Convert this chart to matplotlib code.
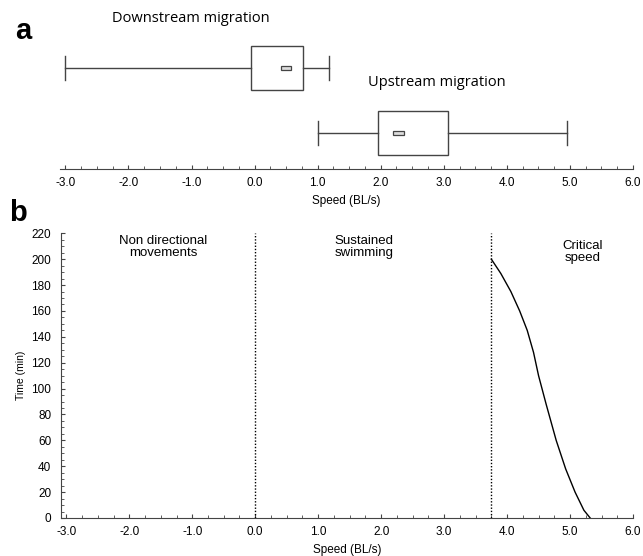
import matplotlib.pyplot as plt
from matplotlib.patches import Rectangle
from matplotlib.ticker import MultipleLocator, FormatStrFormatter

# panel a: box summaries (BL/s)
groups = ["Downstream migration", "Upstream migration"]
whisker_low = [-3.0, 1.01]
box_low = [-0.05, 1.95]
median = [0.50, 2.28]
box_high = [0.77, 3.06]
whisker_high = [1.18, 4.95]

# panel b: critical swimming curve
zone_edges = [0.0, 3.75]
zone_labels = ["Non directional\nmovements", "Sustained\nswimming", "Critical\nspeed"]
curve_speed = [3.75, 3.90, 4.06, 4.20, 4.32, 4.42, 4.50, 4.62, 4.78, 4.93, 5.08, 5.22, 5.32]
curve_time = [200, 189, 175, 160, 145, 128, 110, 88, 60, 38, 20, 6, 0]

LINE = "#444444"
TICK_FONT = ["Liberation Sans", "DejaVu Sans"]


def style_x_axis(ax):
    ax.set_xlim(-3.085, 6.0)
    ax.xaxis.set_major_locator(MultipleLocator(1.0))
    ax.xaxis.set_minor_locator(MultipleLocator(0.25))
    ax.xaxis.set_major_formatter(FormatStrFormatter("%.1f"))
    ax.tick_params(axis="x", which="major", direction="in", length=3, width=0.8,
                   color=LINE, labelsize=8.5, pad=6)
    ax.tick_params(axis="x", which="minor", direction="in", length=2, width=0.6, color=LINE)
    for lab in ax.get_xticklabels():
        lab.set_family(TICK_FONT)
    ax.set_xlabel("Speed (BL/s)", fontsize=8.5, family=TICK_FONT, labelpad=4)


fig = plt.figure(figsize=(6.43, 5.56), dpi=100)

# ---- panel a
ax_a = fig.add_axes([60 / 643, 1 - 169 / 556, 573 / 643, 139 / 556])
ax_a.set_ylim(0, 139)
centers = [101, 36]
box_h = 44.6
cap_h = 24
for i in range(len(groups)):
    yc = centers[i]
    ax_a.add_patch(Rectangle((box_low[i], yc - box_h / 2), box_high[i] - box_low[i], box_h,
                             facecolor="white", edgecolor=LINE, linewidth=1))
    ax_a.plot([whisker_low[i], box_low[i]], [yc, yc], color=LINE, lw=1)
    ax_a.plot([box_high[i], whisker_high[i]], [yc, yc], color=LINE, lw=1)
    for w in (whisker_low[i], whisker_high[i]):
        ax_a.plot([w, w], [yc - cap_h / 2, yc + cap_h / 2], color=LINE, lw=1)
    ax_a.add_patch(Rectangle((median[i] - 0.085, yc - 2), 0.17, 4,
                             facecolor="#dddddd", edgecolor=LINE, linewidth=0.9))
for side in ("top", "right", "left"):
    ax_a.spines[side].set_visible(False)
ax_a.spines["bottom"].set_color(LINE)
ax_a.set_yticks([])
style_x_axis(ax_a)

fig.text(191 / 643, 1 - 19 / 556, groups[0], ha="center", va="center",
         fontsize=10.5, family=["Open Sans", "DejaVu Sans"])
fig.text(437 / 643, 1 - 82 / 556, groups[1], ha="center", va="center",
         fontsize=10.5, family=["Open Sans", "DejaVu Sans"])

# ---- panel b
ax_b = fig.add_axes([61 / 643, 1 - 518 / 556, 572 / 643, (518 - 233.3) / 556])
ax_b.set_ylim(0, 220)
for x in zone_edges:
    ax_b.plot([x, x], [0, 220], color="black", lw=1, linestyle=(0, (1, 1.3)))
ax_b.plot(curve_speed, curve_time, color="black", lw=1)

ax_b.text(-1.46, 219, zone_labels[0], ha="center", va="top", fontsize=9.5,
          family=TICK_FONT, linespacing=1.0)
ax_b.text(1.73, 219, zone_labels[1], ha="center", va="top", fontsize=9.5,
          family=TICK_FONT, linespacing=1.0)
ax_b.text(5.2, 215, zone_labels[2], ha="center", va="top", fontsize=9.5,
          family=TICK_FONT, linespacing=1.0)

for side in ("top", "right"):
    ax_b.spines[side].set_visible(False)
for side in ("left", "bottom"):
    ax_b.spines[side].set_color(LINE)
style_x_axis(ax_b)
ax_b.yaxis.set_major_locator(MultipleLocator(20))
ax_b.yaxis.set_minor_locator(MultipleLocator(5))
ax_b.tick_params(axis="y", which="major", direction="in", length=3, width=0.8,
                 color=LINE, labelsize=8.5, pad=7)
ax_b.tick_params(axis="y", which="minor", direction="in", length=2, width=0.6, color=LINE)
for lab in ax_b.get_yticklabels():
    lab.set_family(TICK_FONT)
ax_b.set_ylabel("Time (min)", fontsize=7.5, family=["Liberation Sans Narrow", "Liberation Sans"],
                labelpad=4)

# panel letters
fig.text(15 / 643, 1 - 31 / 556, "a", fontsize=21, fontweight="bold", va="center",
         family=["Liberation Sans", "DejaVu Sans"])
fig.text(9 / 643, 1 - 213 / 556, "b", fontsize=21, fontweight="bold", va="center",
         family=["Liberation Sans", "DejaVu Sans"])

fig.savefig("out.png", dpi=100, facecolor="white")
